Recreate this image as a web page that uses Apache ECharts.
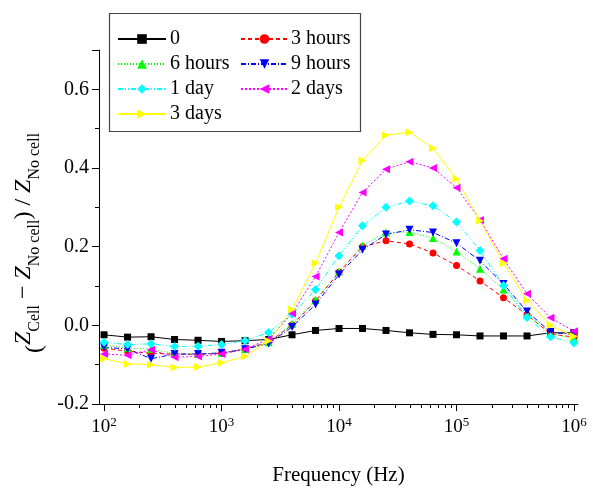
<!DOCTYPE html>
<html>
<head>
<meta charset="utf-8">
<script src="https://cdn.jsdelivr.net/npm/echarts@6/dist/echarts.min.js"></script>
<style>
  html, body { margin: 0; padding: 0; background: #fff; }
  #chart { width: 593px; height: 491px; }
</style>
</head>
<body>
<div id="chart"></div>
<script>
// frequency points (Hz), 5 per decade
var freq = [100, 158.5, 251.2, 398.1, 631, 1000, 1585, 2512, 3981, 6310, 10000,
  15849, 25119, 39811, 63096, 100000, 158489, 251189, 398107, 630957, 1000000];

var zero   = [-0.024,-0.030,-0.029,-0.036,-0.038,-0.041,-0.039,-0.036,-0.024,-0.013,-0.008,-0.008,-0.013,-0.019,-0.023,-0.024,-0.027,-0.027,-0.027,-0.019,-0.019];
var hours3 = [-0.058,-0.066,-0.071,-0.073,-0.074,-0.071,-0.060,-0.043,0.001,0.062,0.135,0.200,0.215,0.207,0.184,0.152,0.113,0.070,0.027,-0.022,-0.030];
var hours6 = [-0.050,-0.058,-0.060,-0.072,-0.073,-0.070,-0.060,-0.043,0.004,0.065,0.137,0.203,0.236,0.237,0.222,0.188,0.144,0.091,0.028,-0.022,-0.032];
var hours9 = [-0.056,-0.060,-0.085,-0.073,-0.073,-0.070,-0.061,-0.046,-0.004,0.053,0.129,0.192,0.231,0.243,0.236,0.209,0.164,0.105,0.035,-0.017,-0.024];
var day1   = [-0.043,-0.049,-0.047,-0.054,-0.053,-0.049,-0.039,-0.018,0.028,0.091,0.177,0.253,0.300,0.316,0.304,0.263,0.190,0.101,0.020,-0.029,-0.045];
var days2  = [-0.073,-0.076,-0.062,-0.081,-0.079,-0.073,-0.061,-0.035,0.030,0.124,0.236,0.338,0.397,0.416,0.400,0.350,0.268,0.169,0.080,0.019,-0.015];
var days3  = [-0.085,-0.098,-0.100,-0.107,-0.106,-0.095,-0.079,-0.040,0.040,0.158,0.300,0.419,0.483,0.491,0.450,0.372,0.266,0.158,0.064,0.000,-0.028];

var xDecades = [2, 3, 4, 5, 6];
var yMajor = [-0.2, 0.0, 0.2, 0.4, 0.6];
var yMinor = [-0.1, 0.1, 0.3, 0.5];

var font = 'Liberation Serif';

var xMinor = [];
for (var n = 2; n < 6; n++) {
  for (var k = 2; k <= 9; k++) xMinor.push(Math.log10(k * Math.pow(10, n)));
}

function pts(vals) {
  return freq.map(function (f, i) { return [Math.log10(f), vals[i]]; });
}

function line(name, vals, color, dash, symbol, size, rot) {
  return {
    name: name,
    type: 'line',
    data: pts(vals),
    symbol: symbol,
    symbolSize: size,
    symbolRotate: rot || 0,
    lineStyle: { color: color, width: 1, type: dash },
    itemStyle: { color: color },
    emphasis: { disabled: true },
    animation: false
  };
}

var xMin = 1.957, xMax = 6.034;

// extra axes carrying only ticks
function tickAxisX(vals, len) {
  return {
    type: 'value', min: xMin, max: xMax, position: 'bottom',
    axisLine: { show: false, onZero: false },
    axisTick: { show: true, customValues: vals, length: len, lineStyle: { color: '#000', width: 1 } },
    axisLabel: { show: false },
    splitLine: { show: false }
  };
}
function tickAxisY(vals, len) {
  return {
    type: 'value', min: -0.2, max: 0.7, position: 'left',
    axisLine: { show: false, onZero: false },
    axisTick: { show: true, customValues: vals, length: len, lineStyle: { color: '#000', width: 1 } },
    axisLabel: { show: false },
    splitLine: { show: false }
  };
}

var chart = echarts.init(document.getElementById('chart'));
var option = {
  backgroundColor: '#fff',
  textStyle: { fontFamily: font },
  grid: { left: 99, right: 15, top: 50, bottom: 86 },
  xAxis: [{
    type: 'value',
    min: xMin, max: xMax,
    position: 'bottom',
    name: 'Frequency (Hz)',
    nameLocation: 'middle',
    nameGap: 61,
    nameTextStyle: { fontFamily: font, fontSize: 21, color: '#000' },
    axisLine: { show: true, onZero: false, lineStyle: { color: '#000', width: 1 } },
    axisTick: { show: false },
    splitLine: { show: false },
    axisLabel: {
      customValues: xDecades,
      margin: 12,
      formatter: function (v) { return '{b|10}{s|' + Math.round(v) + '}'; },
      rich: {
        b: { fontFamily: font, fontSize: 19, color: '#000', lineHeight: 22 },
        s: { fontFamily: font, fontSize: 13, color: '#000', verticalAlign: 'top', lineHeight: 14 }
      }
    }
  }, tickAxisX(xDecades, 7), tickAxisX(xMinor, 4)],
  yAxis: [{
    type: 'value',
    min: -0.2, max: 0.7,
    position: 'left',
    name: '({i|Z}{s|Cell}{n| \u2212 }{i|Z}{s|No cell}{n|) / }{i|Z}{s|No cell}',
    nameLocation: 'middle',
    nameRotate: 90,
    nameGap: 42,
    nameTextStyle: {
      fontFamily: font, fontSize: 24, color: '#000', padding: [0, 32, 0, 0],
      rich: {
        i: { fontFamily: font, fontSize: 24, fontStyle: 'italic', color: '#000', lineHeight: 25, verticalAlign: 'top' },
        n: { fontFamily: font, fontSize: 24, color: '#000', lineHeight: 25, verticalAlign: 'top' },
        s: { fontFamily: font, fontSize: 16, color: '#000', lineHeight: 45 }
      }
    },
    axisLine: { show: true, onZero: false, lineStyle: { color: '#000', width: 1 } },
    axisTick: { show: false },
    splitLine: { show: false },
    axisLabel: {
      customValues: yMajor,
      margin: 10,
      fontFamily: font, fontSize: 20, color: '#000',
      formatter: function (v) { return v.toFixed(1); }
    }
  }, tickAxisY(yMajor.concat([0.7]), 7), tickAxisY(yMinor, 4)],
  legend: [{
    data: ['0', '6 hours', '1 day', '3 days'],
    orient: 'vertical',
    left: 112, top: 24,
    itemWidth: 48, itemHeight: 12, itemGap: 5,
    textStyle: { fontFamily: font, fontSize: 20, color: '#000', padding: [0, 0, 0, -1] },
    selectedMode: false
  }, {
    data: ['3 hours', '9 hours', '2 days'],
    orient: 'vertical',
    left: 235, top: 24,
    itemWidth: 47, itemHeight: 12, itemGap: 5,
    textStyle: { fontFamily: font, fontSize: 20, color: '#000', padding: [0, 0, 0, -2] },
    selectedMode: false
  }],
  graphic: [{
    type: 'rect',
    shape: { x: 109.5, y: 13.5, width: 251, height: 118 },
    style: { fill: null, stroke: '#444', lineWidth: 1.2 },
    z: 10
  }],
  series: [
    line('0', zero, '#000000', 'solid', 'rect', 7),
    line('3 hours', hours3, '#ff0000', [4, 3], 'circle', 7),
    line('6 hours', hours6, '#00ff00', [1, 2], 'triangle', 8),
    line('9 hours', hours9, '#0000ff', [5, 2, 1, 2], 'triangle', 8, 180),
    line('1 day', day1, '#00ffff', [5, 2, 1, 2, 1, 2], 'diamond', 9),
    line('2 days', days2, '#ff00ff', [2, 2], 'triangle', 8, 90),
    line('3 days', days3, '#ffff00', 'solid', 'triangle', 8, -90)
  ]
};
chart.setOption(option);
window.addEventListener('resize', function () { chart.resize(); });
</script>
</body>
</html>
